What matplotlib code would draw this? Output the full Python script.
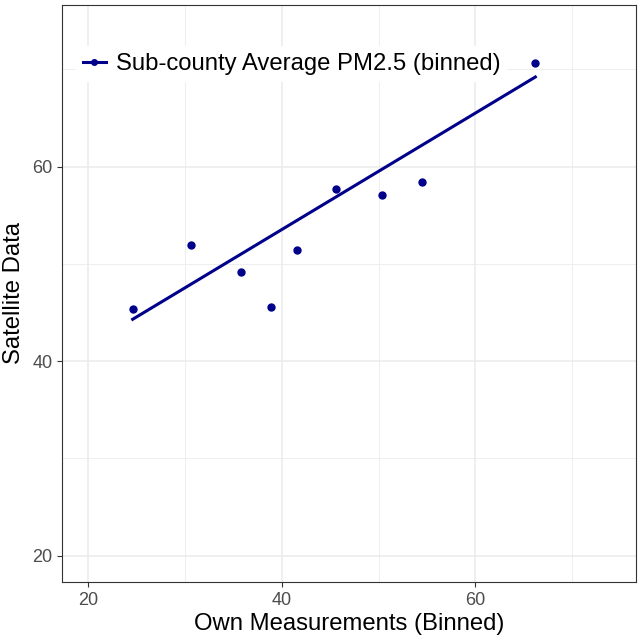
import numpy as np
import matplotlib
matplotlib.use('Agg')
import matplotlib.pyplot as plt
from matplotlib.ticker import MultipleLocator

plt.rcParams['font.family'] = ['Liberation Sans', 'DejaVu Sans']

# binned means
own_binned = [24.6, 30.6, 35.8, 38.9, 41.6, 45.6, 50.4, 54.5, 66.2]
satellite = [45.4, 51.9, 49.2, 45.6, 51.4, 57.7, 57.1, 58.4, 70.6]
# fitted line (fit on the raw data, so not the binned points)
fit_x = [24.6, 66.2]
fit_y = [44.3, 69.2]
x_ticks = [20, 40, 60]
y_ticks = [20, 40, 60]

navy = '#00008B'

fig = plt.figure(figsize=(6.42, 6.40), dpi=100)
ax = fig.add_axes([62 / 642, 58 / 640, 574 / 642, 577 / 640])

ax.plot(fit_x, fit_y, color=navy, lw=2.2, zorder=3)
ax.plot(own_binned, satellite, 'o', color=navy, ms=5, zorder=4)

ax.set_xlim(17.3, 76.6)
ax.set_ylim(17.3, 76.6)
ax.set_xticks(x_ticks)
ax.set_yticks(y_ticks)
ax.xaxis.set_minor_locator(MultipleLocator(10))
ax.yaxis.set_minor_locator(MultipleLocator(10))
ax.grid(which='major', color='#EBEBEB', lw=1.1)
ax.grid(which='minor', color='#EBEBEB', lw=0.6)
ax.set_axisbelow(True)
ax.tick_params(which='minor', length=0)
ax.tick_params(which='major', length=3.5, width=0.8, color='#333333',
               labelcolor='#4D4D4D', labelsize=13)
for s in ax.spines.values():
    s.set_color('#333333')
    s.set_linewidth(0.8)

ax.set_xlabel('Own Measurements (Binned)', fontsize=17.2, labelpad=3)
ax.set_ylabel('Satellite Data', fontsize=17.2, labelpad=5)

# legend entry: line with dot
h, = ax.plot([], [], '-o', color=navy, lw=2.2, ms=4)
leg = ax.legend([h], ['Sub-county Average PM2.5 (binned)'], loc='upper left',
                bbox_to_anchor=(0.024, 0.929), borderaxespad=0,
                fontsize=17.2, frameon=True,
                fancybox=False, edgecolor='none', facecolor='white',
                framealpha=1, handlelength=0.95, handletextpad=0.42,
                borderpad=0.3)

fig.savefig('out.png', dpi=100)
